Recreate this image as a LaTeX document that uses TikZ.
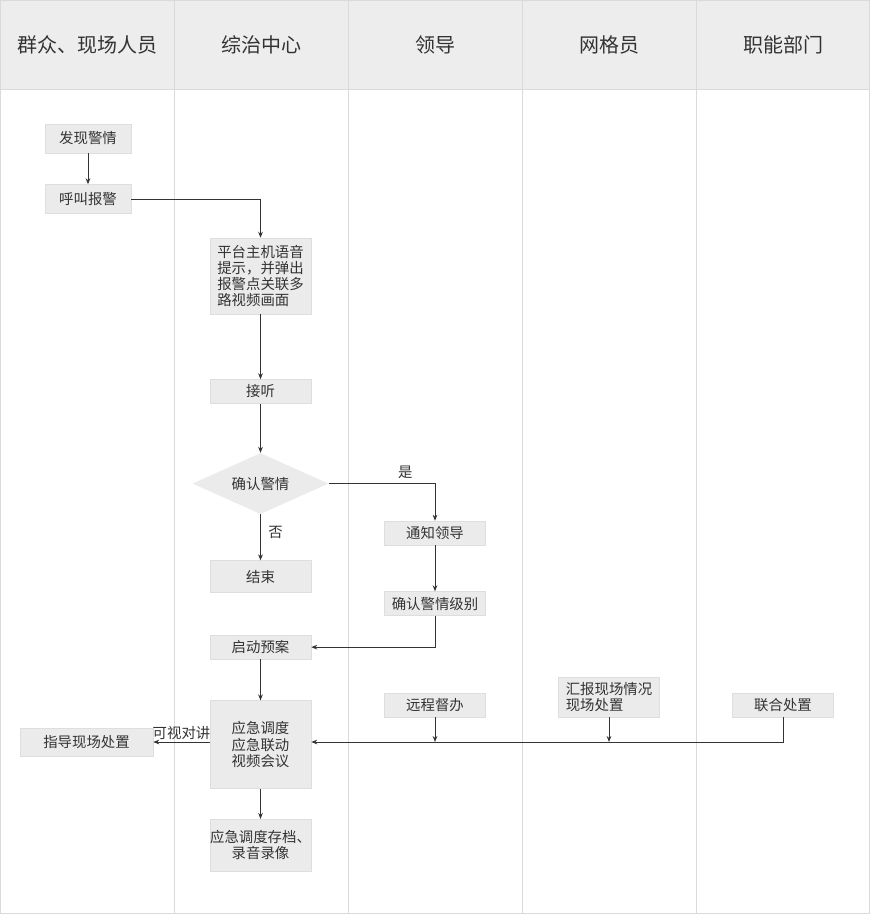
\documentclass[tikz,border=0pt]{standalone}
\usepackage{fontspec}
\setmainfont{Noto Sans CJK SC}
\usetikzlibrary{positioning,shapes.geometric,arrows.meta}
\definecolor{lanegray}{HTML}{DADADA}
\definecolor{headgray}{HTML}{EDEDED}
\definecolor{boxgray}{HTML}{EBEBEB}
\definecolor{boxline}{HTML}{DEDEDE}
\definecolor{ink}{HTML}{333333}

\begin{document}
\begin{tikzpicture}[x=0.75pt,y=-0.75pt,
  box/.style={draw=boxline,fill=boxgray,text=ink,inner sep=0pt,
    minimum width=75.75pt,minimum height=18pt,
    font=\fontsize{10.8}{12.2}\selectfont},
  decision/.style={diamond,aspect=2.2,fill=boxgray,text=ink,inner sep=0pt,
    minimum width=102pt,minimum height=45.75pt,
    font=\fontsize{10.8}{12.2}\selectfont},
  flow/.style={draw=ink,line width=0.65pt,-{Stealth[length=4.5pt,width=3.5pt]}},
  tag/.style={text=ink,inner sep=1.5pt,font=\fontsize{10.8}{12.2}\selectfont}]
 \useasboundingbox (0,0) rectangle (870,914);
 \fill[headgray] (0,0) rectangle (870,89);
 \draw[lanegray] (0,89) -- (870,89);
 \foreach \x in {174,348,522,696}
  \draw[lanegray] (\x,0) -- (\x,914);
 \draw[lanegray] (0.5,0.5) rectangle (869.5,913.5);
 \foreach \x/\name in {87/群众、现场人员,261/综治中心,435/领导,609/网格员,783/职能部门}
  \node[text=ink,font=\fontsize{15}{17}\selectfont] at (\x,45) {\name};

 \node[box,minimum width=64.5pt,minimum height=21.75pt] (find) at (88,138.5) {发现警情};
 \node[box,minimum width=64.5pt,minimum height=21.75pt,below=23.25pt of find] (call) {呼叫报警};
 \node[box,minimum height=57pt,align=left] (platform) at (260.5,276)
  {平台主机语音\\提示，并弹出\\报警点关联多\\路视频画面};
 \node[box,below=48.75pt of platform] (answer) {接听};
 \node[decision,below=36.75pt of answer] (check) {确认警情};
 \node[box,minimum height=24pt,below=34.5pt of check] (finish) {结束};
 \node[box,below=31.5pt of finish] (plan) {启动预案};
 \node[box,minimum height=66pt,align=center,below=30.75pt of plan] (dispatch)
  {应急调度\\应急联动\\视频会议};
 \node[box,minimum height=39pt,align=center,below=22.5pt of dispatch] (archive)
  {应急调度存档、\\录音录像};
 \node[box,minimum width=99.75pt,minimum height=21pt] (guide) at (86.5,742) {指导现场处置};

 \node[box] (notify) at (435,533) {通知领导};
 \node[box,below=34.5pt of notify] (level) {确认警情级别};
 \node[box] (remote) at (435,705) {远程督办};
 \node[box,minimum height=30pt,align=left] (report) at (609,697) {汇报现场情况\\现场处置};
 \node[box] (joint) at (783,705) {联合处置};
 \coordinate (bus) at (dispatch.east |- guide.east);

 \draw[flow] (find) -- (call);
 \draw[flow] (call.east) -| (platform.north);
 \draw[flow] (platform) -- (answer);
 \draw[flow] (answer) -- (check);
 \draw[flow] (check) -- node[tag,right=4pt,pos=0.4] {否} (finish);
 \draw[flow] (check.east) -| node[tag,above=2pt,pos=0.36] {是} (notify.north);
 \draw[flow] (notify) -- (level);
 \draw[flow] (level.south) |- (plan.east);
 \draw[flow] (plan) -- (dispatch);
 \draw[flow] (dispatch) -- (archive);
 \draw[flow] (dispatch.west |- guide.east) -- node[tag,above] {可视对讲} (guide.east);
 \draw[flow] (joint.south) |- (bus);
 \draw[flow] (remote.south) -- (remote.south |- bus);
 \draw[flow] (report.south) -- (report.south |- bus);
\end{tikzpicture}
\end{document}
